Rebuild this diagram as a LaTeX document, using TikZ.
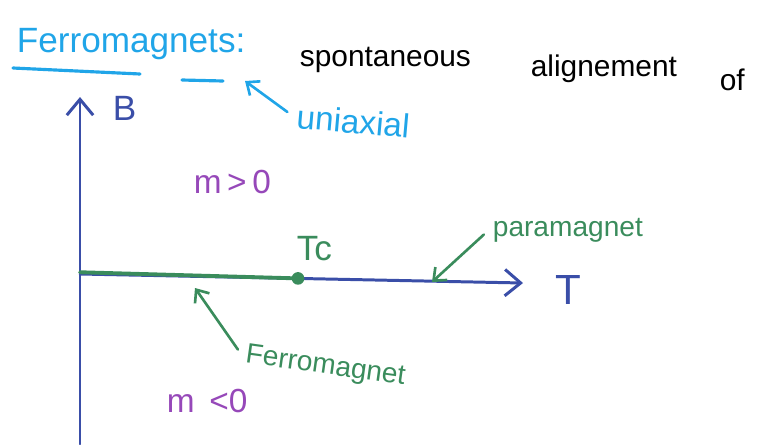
\documentclass[tikz,border=0pt]{standalone}
\usepackage{fontspec}
\setmainfont{Liberation Sans}
\usepackage{xcolor}
\usetikzlibrary{arrows.meta, positioning}

\definecolor{titleblue}{RGB}{32,165,232}
\definecolor{axisblue}{RGB}{58,78,168}
\definecolor{pengreen}{RGB}{58,140,92}
\definecolor{penpurple}{RGB}{150,72,185}

\tikzset{
  axisline/.style={draw=axisblue, line width=1.7pt,
    -{Straight Barb[length=9pt, width=15pt, line width=1.7pt]}},
  notearrow/.style={draw=pengreen, line width=1.5pt, shorten <=4pt,
    -{Straight Barb[length=6pt, width=10pt, line width=1.5pt]}},
  bluearrow/.style={notearrow, draw=titleblue},
  hand/.style={anchor=base west, inner sep=2pt},
}

\begin{document}
\begin{tikzpicture}[
  x=0.02cm, y=-0.02cm,
  line cap=round, line join=round
]
  \useasboundingbox (0,0) rectangle (759,444);

  % heading
  \node[hand, text=titleblue, font=\fontsize{20}{24}\selectfont] (title) at (13,52) {Ferromagnets:};
  \draw[titleblue, line width=1.8pt] (13,68) -- (140,74);
  \draw[titleblue, line width=1.8pt] (182,80) -- (223,81);
  \node[hand, font=\fontsize{17}{20}\selectfont] (spont) at (296,66) {spontaneous};
  \node[hand, font=\fontsize{17}{20}\selectfont] (align) at (527,76) {alignement};
  \node[hand, font=\fontsize{17}{20}\selectfont] (of) at (716,90) {of};
  \node[hand, text=titleblue, font=\fontsize{19}{22}\selectfont, rotate=-5] (uniax) at (292,128) {uniaxial};
  \coordinate (colon) at (245,81);
  \draw[bluearrow] (uniax.west) -- (colon);

  % axes
  \coordinate (origin) at (80,274);
  \coordinate (Btop) at (80,97);
  \coordinate (Bbot) at (80,444);
  \coordinate (Tend) at (523,283);
  \draw[axisline] (Bbot) -- (Btop);
  \draw[axisline] (origin) -- (Tend);
  \node[hand, text=axisblue, font=\fontsize{20}{24}\selectfont] (Blabel) at (109,120) {B};
  \node[hand, text=axisblue, font=\fontsize{24}{28}\selectfont] (Tlabel) at (552,304) {T};

  % ordered phase below Tc
  \coordinate (tc) at (298,278.4);
  \draw[pengreen, line width=2.2pt] ([yshift=1pt]origin) -- (tc);
  \fill[pengreen] (tc) circle (3.6pt);
  \node[hand, text=pengreen, font=\fontsize{20}{24}\selectfont] (Tc) at (293,260) {Tc};

  % labels
  \node[hand, text=penpurple, font=\fontsize{19}{22}\selectfont] (mpos) at (190,193) {m\,>\,0};
  \node[hand, text=penpurple, font=\fontsize{19}{22}\selectfont] (mneg) at (163,412) {m \,<0};
  \node[hand, text=pengreen, font=\fontsize{16}{19}\selectfont] (para) at (489,236) {paramagnet};
  \node[hand, text=pengreen, font=\fontsize{16}{19}\selectfont, rotate=-8] (ferro) at (241,362) {Ferromagnet};
  \coordinate (paratip) at (432,282);
  \coordinate (ferrotip) at (195,288);
  \draw[notearrow] (para.west) -- (paratip);
  \draw[notearrow] (ferro.west) -- (ferrotip);
\end{tikzpicture}
\end{document}
